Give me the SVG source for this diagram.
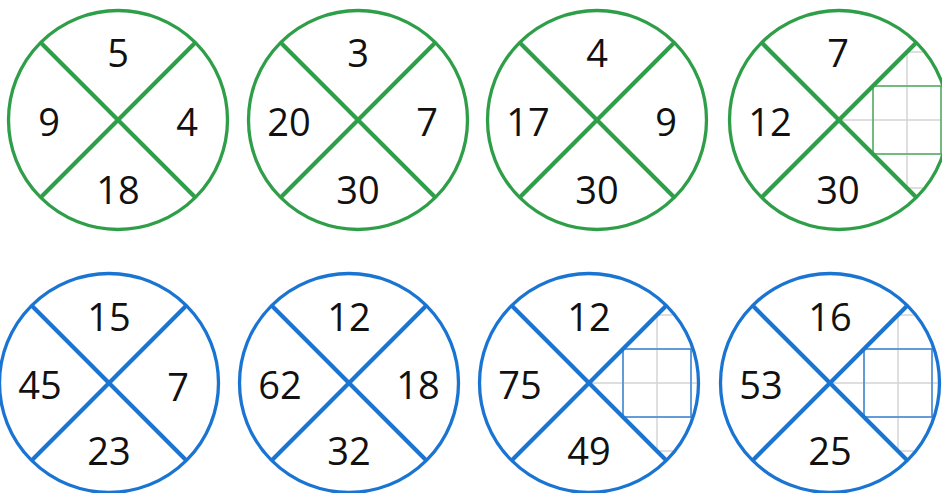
<svg xmlns="http://www.w3.org/2000/svg" width="942" height="493" viewBox="0 0 942 493">
<style>
  .g { fill: none; stroke: #2f9e48; stroke-width: 3.3; }
  .b { fill: none; stroke: #1a74d2; stroke-width: 3.3; }
  .gx { fill: none; stroke: #2f9e48; stroke-width: 4.2; }
  .bx { fill: none; stroke: #1a74d2; stroke-width: 4.2; }
  .grid { fill: none; stroke: #d4d4d4; stroke-width: 1.5; }
  .gbox { fill: none; stroke: #4fae62; stroke-width: 1.5; }
  .bbox { fill: none; stroke: #3a86d6; stroke-width: 1.5; }
  text { font-family: "Open Sans", "Noto Sans", "DejaVu Sans", sans-serif; font-size: 38px; font-weight: 500; fill: #111; text-anchor: middle; }
</style>
<defs>
  <clipPath id="s4"><path d="M839 120 L916.4 42.6 A109.5 109.5 0 0 1 916.4 197.4 Z"/></clipPath>
  <clipPath id="s7"><path d="M589 383 L666.4 305.6 A109.5 109.5 0 0 1 666.4 460.4 Z"/></clipPath>
  <clipPath id="s8"><path d="M830 383 L907.4 305.6 A109.5 109.5 0 0 1 907.4 460.4 Z"/></clipPath>
</defs>
<rect width="942" height="493" fill="#fff"/>

<g id="grids">
  <g clip-path="url(#s4)">
    <path class="grid" d="M873 0 V240 M907 0 V240 M941 0 V240 M800 52 H942 M800 86 H942 M800 120 H942 M800 154 H942 M800 188 H942"/>
    <rect class="gbox" x="873" y="86" width="68" height="68"/>
  </g>
  <g clip-path="url(#s7)">
    <path class="grid" d="M623 270 V493 M657 270 V493 M691 270 V493 M560 315 H720 M560 349 H720 M560 383 H720 M560 417 H720 M560 451 H720"/>
    <rect class="bbox" x="623" y="349" width="68" height="68"/>
  </g>
  <g clip-path="url(#s8)">
    <path class="grid" d="M864 270 V493 M898 270 V493 M932 270 V493 M800 315 H942 M800 349 H942 M800 383 H942 M800 417 H942 M800 451 H942"/>
    <rect class="bbox" x="864" y="349" width="68" height="68"/>
  </g>
</g>

<g id="n1">
  <circle class="g" cx="118" cy="120" r="109.5"/>
  <path class="gx" d="M40.6 42.6 L195.4 197.4 M195.4 42.6 L40.6 197.4"/>
  <text x="118" y="67">5</text><text x="49" y="136">9</text><text x="187" y="136">4</text><text x="118" y="204">18</text>
</g>
<g id="n2">
  <circle class="g" cx="358" cy="120" r="109.5"/>
  <path class="gx" d="M280.6 42.6 L435.4 197.4 M435.4 42.6 L280.6 197.4"/>
  <text x="358" y="67">3</text><text x="289" y="136">20</text><text x="427" y="136">7</text><text x="358" y="204">30</text>
</g>
<g id="n3">
  <circle class="g" cx="597" cy="120" r="109.5"/>
  <path class="gx" d="M519.6 42.6 L674.4 197.4 M674.4 42.6 L519.6 197.4"/>
  <text x="597" y="67">4</text><text x="528" y="136">17</text><text x="666" y="136">9</text><text x="597" y="204">30</text>
</g>
<g id="n4">
  <circle class="g" cx="839" cy="120" r="109.5"/>
  <path class="gx" d="M761.6 42.6 L916.4 197.4 M916.4 42.6 L761.6 197.4"/>
  <text x="838" y="67">7</text><text x="770" y="136">12</text><text x="838" y="204">30</text>
</g>

<g id="n5">
  <circle class="b" cx="109" cy="383" r="109.5"/>
  <path class="bx" d="M31.6 305.6 L186.4 460.4 M186.4 305.6 L31.6 460.4"/>
  <text x="109" y="331">15</text><text x="40" y="399">45</text><text x="178" y="401">7</text><text x="109" y="465">23</text>
</g>
<g id="n6">
  <circle class="b" cx="349" cy="383" r="109.5"/>
  <path class="bx" d="M271.6 305.6 L426.4 460.4 M426.4 305.6 L271.6 460.4"/>
  <text x="349" y="331">12</text><text x="280" y="399">62</text><text x="418" y="399">18</text><text x="349" y="465">32</text>
</g>
<g id="n7">
  <circle class="b" cx="589" cy="383" r="109.5"/>
  <path class="bx" d="M511.6 305.6 L666.4 460.4 M666.4 305.6 L511.6 460.4"/>
  <text x="589" y="331">12</text><text x="520" y="399">75</text><text x="589" y="465">49</text>
</g>
<g id="n8">
  <circle class="b" cx="830" cy="383" r="109.5"/>
  <path class="bx" d="M752.6 305.6 L907.4 460.4 M907.4 305.6 L752.6 460.4"/>
  <text x="830" y="331">16</text><text x="761" y="399">53</text><text x="830" y="465">25</text>
</g>
</svg>
